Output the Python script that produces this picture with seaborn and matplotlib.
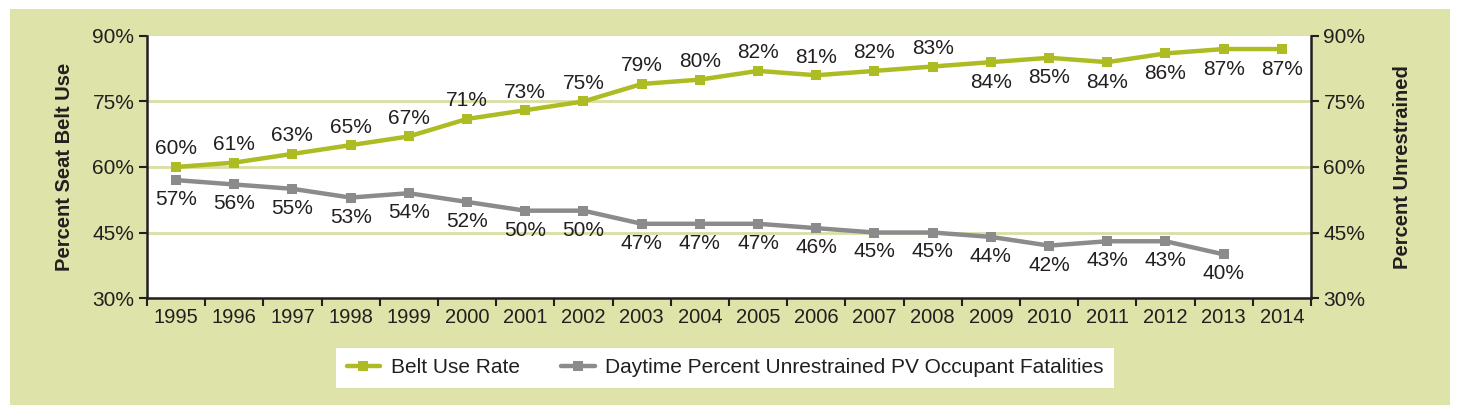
import matplotlib
matplotlib.use("Agg")
import matplotlib.pyplot as plt
from matplotlib.patches import Rectangle
import seaborn as sns
import pandas as pd

years = list(range(1995, 2015))
belt_use = [60, 61, 63, 65, 67, 71, 73, 75, 79, 80, 82, 81, 82, 83, 84, 85, 84, 86, 87, 87]
unrestrained = [57, 56, 55, 53, 54, 52, 50, 50, 47, 47, 47, 46, 45, 45, 44, 42, 43, 43, 40, None]
belt_label = "Belt Use Rate"
unres_label = "Daytime Percent Unrestrained PV Occupant Fatalities"

GREEN = "#adbc22"
GRAY = "#8b8b8d"
PANEL = "#dee3a9"
GRID = "#d9dfa3"
TXT = "#231f20"

sns.set_theme(style="white")
plt.rcParams["font.family"] = ["Liberation Sans", "DejaVu Sans"]

df = pd.DataFrame({
    "year": years * 2,
    "value": belt_use + unrestrained,
    "series": [belt_label] * len(years) + [unres_label] * len(years),
}).dropna()

fig = plt.figure(figsize=(14.62, 4.18), dpi=100)
fig.patches.append(Rectangle((0.0068, 0.031), 0.985, 0.947, transform=fig.transFigure,
                             facecolor=PANEL, edgecolor="none", zorder=-10))

ax = fig.add_axes([0.1005, 0.287, 0.7962, 0.627])
ax.set_facecolor("white")
sns.lineplot(data=df, x="year", y="value", hue="series", style="series",
             palette=[GREEN, GRAY], markers=["s", "s"], dashes=False,
             linewidth=3.2, markersize=7.5, markeredgewidth=0, ax=ax, zorder=3)

ax.set_xlim(1994.5, 2014.5)
ax.set_ylim(30, 90)
yt = [30, 45, 60, 75, 90]
ax.set_yticks(yt)
ax.set_yticklabels([f"{v}%" for v in yt], fontsize=15, color=TXT)
for v in [45, 60, 75]:
    ax.axhline(v, color=GRID, lw=2, zorder=1)

ax.set_xticks(years)
ax.set_xticklabels([str(y) for y in years], fontsize=14.5, color=TXT)
ax.set_xticks([y - 0.5 for y in years] + [2014.5], minor=True)
ax.tick_params(axis="x", which="major", length=0, pad=7)
ax.tick_params(axis="x", which="minor", length=6, width=1.5, color=TXT, direction="out", bottom=True)
ax.tick_params(axis="y", length=6, width=1.5, color=TXT, direction="out", left=True, pad=3)

for s in ["top", "right"]:
    ax.spines[s].set_visible(False)
for s in ["left", "bottom"]:
    ax.spines[s].set_color(TXT)
    ax.spines[s].set_linewidth(1.8)

ax.set_xlabel("")
ax.set_ylabel("Percent Seat Belt Use", fontsize=14.5, fontweight="bold", color=TXT, labelpad=13)

ax2 = ax.twinx()
ax2.set_ylim(30, 90)
ax2.set_yticks(yt)
ax2.set_yticklabels([f"{v}%" for v in yt], fontsize=15, color=TXT)
ax2.tick_params(axis="y", length=6, width=1.5, color=TXT, direction="out", right=True, pad=3)
for s in ["top", "left", "bottom"]:
    ax2.spines[s].set_visible(False)
ax2.spines["right"].set_color(TXT)
ax2.spines["right"].set_linewidth(1.8)
ax2.set_ylabel("Percent Unrestrained", fontsize=14.5, fontweight="bold", color=TXT, labelpad=20)

# data labels
for y, v in zip(years, belt_use):
    off = 13 if y <= 2008 else -14.5
    ax.annotate(f"{v}%", (y, v), xytext=(0, off), textcoords="offset points",
                ha="center", va="center", fontsize=15, color=TXT)
for y, v in zip(years, unrestrained):
    if v is None:
        continue
    ax.annotate(f"{v}%", (y, v), xytext=(0, -14), textcoords="offset points",
                ha="center", va="center", fontsize=15, color=TXT)

handles, labels = ax.get_legend_handles_labels()
ax.get_legend().remove()
leg = fig.legend(handles, labels, loc="center", bbox_to_anchor=(0.496, 0.12), ncol=2,
                 frameon=True, framealpha=1, fontsize=15, handlelength=1.6, columnspacing=2.0,
                 handletextpad=0.5, borderpad=0.5, fancybox=False)
leg.get_frame().set_facecolor("white")
leg.get_frame().set_edgecolor("none")
for t in leg.get_texts():
    t.set_color(TXT)

fig.savefig("out.png", dpi=100, facecolor="white")
